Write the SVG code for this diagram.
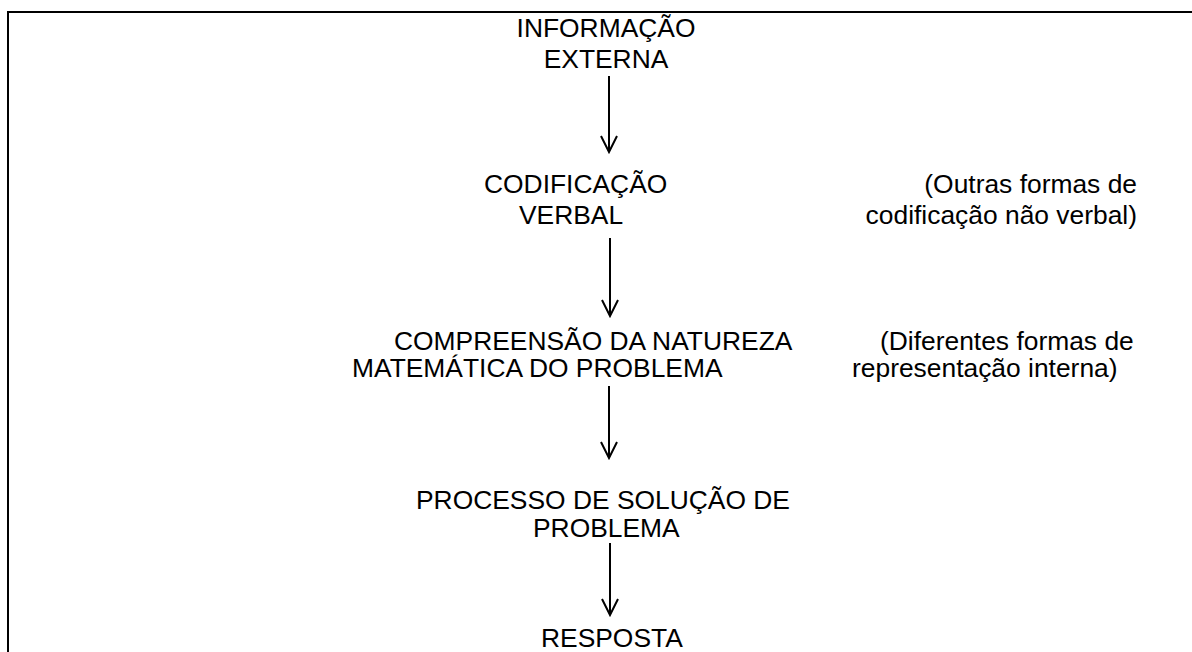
<svg xmlns="http://www.w3.org/2000/svg" width="1192" height="652" viewBox="0 0 1192 652">
<style>
text{font-family:"Liberation Sans",Arial,sans-serif;font-size:26.4px;fill:#000}
.ln{stroke:#000;stroke-width:2;fill:none}
</style>
<rect width="1192" height="652" fill="#fff"/>
<g id="frame"><path class="ln" d="M8,652 V12 H1192" stroke-width="2.5"/></g>
<g id="n1"><text x="606" y="37" text-anchor="middle">INFORMAÇÃO</text><text x="606" y="68" text-anchor="middle">EXTERNA</text></g>
<g id="n2"><text x="484" y="193">CODIFICAÇÃO</text><text x="519" y="224">VERBAL</text></g>
<g id="n2note"><text x="1137" y="193" text-anchor="end">(Outras formas de</text><text x="1137" y="224" text-anchor="end">codificação não verbal)</text></g>
<g id="n3"><text x="394" y="350">COMPREENSÃO DA NATUREZA</text><text x="352" y="377">MATEMÁTICA DO PROBLEMA</text></g>
<g id="n3note"><text x="880" y="350">(Diferentes formas de</text><text x="852" y="377">representação interna)</text></g>
<g id="n4"><text x="416" y="509">PROCESSO DE SOLUÇÃO DE</text><text x="533" y="537">PROBLEMA</text></g>
<g id="n5"><text x="541" y="647">RESPOSTA</text></g>
<g id="connectors">
<path class="ln" d="M609,76 V152 M601,136 L609,152 L617,136"/>
<path class="ln" d="M610,238 V316 M602,300 L610,316 L618,300"/>
<path class="ln" d="M609,386 V458 M601,442 L609,458 L617,442"/>
<path class="ln" d="M610,543 V615 M602,599 L610,615 L618,599"/>
</g>
</svg>
